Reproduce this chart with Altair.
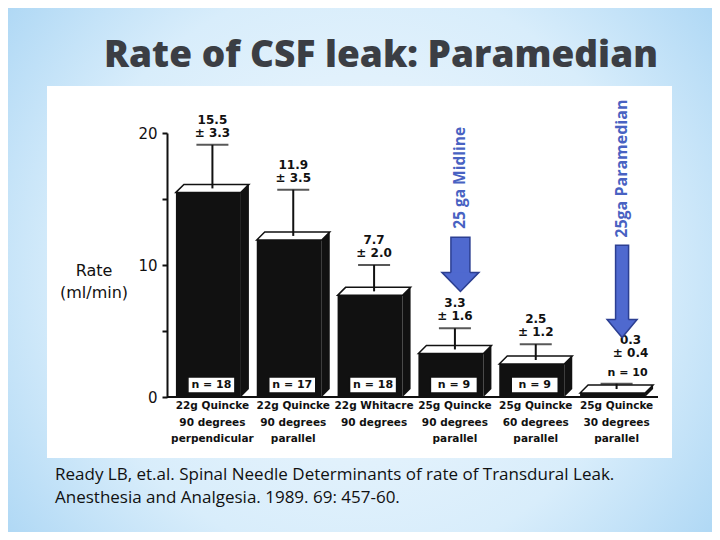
"""Slide: rate of CSF leak by spinal needle (Ready et al. 1989), paramedian highlight."""

import altair as alt
import pandas as pd

# ---- data ----
NEEDLES = ["22g Quincke", "22g Quincke", "22g Whitacre", "25g Quincke", "25g Quincke", "25g Quincke"]
ANGLES = ["90 degrees", "90 degrees", "90 degrees", "90 degrees", "60 degrees", "30 degrees"]
BEVELS = ["perpendicular", "parallel", "", "parallel", "parallel", "parallel"]
RATES = [15.5, 11.9, 7.7, 3.3, 2.5, 0.3]
ERRS = [3.3, 3.5, 2.0, 1.6, 1.2, 0.4]
COUNTS = [18, 17, 18, 9, 9, 10]

# annotation arrows (group index, label, tail / tip / label centre in ml/min)
ARROW_GROUPS = [3, 5]
ARROW_LABELS = ["25 ga Midline", "25ga Paramedian"]
ARROW_TAILS = [12.1, 11.5]
ARROW_TIPS = [8.0, 4.5]
ARROW_LABEL_MID = [16.6, 17.3]

TITLE = "Rate of CSF leak: Paramedian"
CITATION = ["Ready LB, et.al. Spinal Needle Determinants of rate of Transdural Leak.",
            "Anesthesia and Analgesia.  1989.  69: 457-60."]

# ---- style ----
W, H = 704, 524
INK = "#111111"
BAR_W, DEPTH = 65, 8
ARROW_FILL, ARROW_LINE, ARROW_TEXT = "#4f69cf", "#2c3f92", "#4862c2"
LABEL_FONT = "DejaVu Sans"

groups = ["\n".join(p for p in (n, a, b) if p) for n, a, b in zip(NEEDLES, ANGLES, BEVELS)]
df = pd.DataFrame({"group": groups, "rate": RATES, "err": ERRS, "n": COUNTS})
df["hi"] = df["rate"] + df["err"]
df["zero"] = 0.0
df["value_label"] = [f"{r:.1f}\n± {e:.1f}" for r, e in zip(RATES, ERRS)]
df["n_label"] = [f"n = {c}" for c in COUNTS]
low = df["rate"] < 1  # bars too short to carry their n inside

xscale = alt.Scale(domain=groups, range=[160, 645], paddingInner=0, paddingOuter=0)
yscale = alt.Scale(domain=[0, 20], range=[389, 125], nice=False, zero=True)
yaxis = alt.Axis(values=[0, 5, 10, 15, 20], grid=False, offset=-159, title=None, zindex=1,
                 labelExpr="datum.value % 10 == 0 ? datum.label : ''",
                 domainColor=INK, domainWidth=2, tickColor=INK, tickWidth=2, tickSize=5,
                 labelFont=LABEL_FONT, labelFontSize=15, labelColor=INK, labelPadding=5)


def X():
    return alt.X("group:N", scale=xscale, axis=None, sort=groups)


def Y(field):
    return alt.Y(field, scale=yscale, axis=yaxis)


half = BAR_W / 2
r_top = (BAR_W + DEPTH) / 2
k = (DEPTH / 2) / r_top
top_face = f"M-1,{k:.4f}L{-1 + DEPTH / r_top:.4f},-{k:.4f}L1,-{k:.4f}L{1 - DEPTH / r_top:.4f},{k:.4f}Z"

base = alt.Chart(df)

background = alt.Chart(pd.DataFrame({"a": [0]})).mark_rect(color={
    "gradient": "radial", "x1": 0.5, "y1": 0.5, "x2": 0.5, "y2": 0.5, "r1": 0, "r2": 0.75,
    "stops": [{"offset": 0, "color": "#f3f9fe"}, {"offset": 0.55, "color": "#d8edfb"},
              {"offset": 1, "color": "#98ccf1"}]}).encode(
    x=alt.value(0), x2=alt.value(W), y=alt.value(0), y2=alt.value(H))

panel = alt.Chart(pd.DataFrame({"a": [0]})).mark_rect(color="white").encode(
    x=alt.value(39), x2=alt.value(664), y=alt.value(78), y2=alt.value(450))

title = alt.Chart(pd.DataFrame({"t": [TITLE]})).mark_text(
    font="Open Sans", fontWeight=800, fontSize=37, color="#3b3e44", baseline="middle").encode(
    x=alt.value(373), y=alt.value(48), text="t:N")

citation = alt.Chart(pd.DataFrame({"t": ["\n".join(CITATION)]})).mark_text(
    font="Open Sans", fontSize=17, color="#111111", align="left", baseline="top",
    lineBreak="\n", lineHeight=23).encode(x=alt.value(47), y=alt.value(459), text="t:N")

side = base.mark_bar(width=DEPTH, color=INK, xOffset=half + DEPTH / 2,
                     yOffset=-DEPTH, y2Offset=-DEPTH).encode(x=X(), y=Y("rate:Q"), y2="zero:Q")
foot = base.mark_point(shape="M-1,-1L-1,1L1,-1Z", size=DEPTH ** 2, filled=True, color=INK, opacity=1,
                       xOffset=half + DEPTH / 2, yOffset=-DEPTH / 2).encode(x=X(), y=Y("zero:Q"))
front = base.mark_bar(width=BAR_W, color=INK).encode(x=X(), y=Y("rate:Q"), y2="zero:Q")
top = base.mark_point(shape=top_face, size=(2 * r_top) ** 2, filled=True, fill="white",
                      stroke=INK, strokeWidth=1.5, opacity=1,
                      xOffset=DEPTH / 2, yOffset=-DEPTH / 2).encode(x=X(), y=Y("rate:Q"))

whisker = base.mark_rule(color=INK, strokeWidth=2, xOffset=DEPTH / 2, yOffset=-DEPTH / 2,
                         y2Offset=-DEPTH / 2).encode(x=X(), y=Y("rate:Q"), y2="hi:Q")
cap = base.mark_tick(color=INK, size=32, thickness=2, xOffset=DEPTH / 2,
                     yOffset=-DEPTH / 2).encode(x=X(), y=Y("hi:Q"))

value_txt = alt.Chart(df[~low]).mark_text(
    font=LABEL_FONT, fontWeight="bold", fontSize=12, color=INK, baseline="bottom",
    lineBreak="\n", lineHeight=13, dx=DEPTH / 2, dy=-DEPTH / 2 - 18).encode(
    x=X(), y=Y("hi:Q"), text="value_label:N")
value_txt_low = alt.Chart(df[low]).mark_text(
    font=LABEL_FONT, fontWeight="bold", fontSize=12, color=INK, baseline="bottom",
    lineBreak="\n", lineHeight=13, dx=18, dy=-46).encode(
    x=X(), y=Y("rate:Q"), text="value_label:N")

n_box = alt.Chart(df[~low]).mark_point(
    shape="M-1,-0.34L1,-0.34L1,0.34L-1,0.34Z", size=47 ** 2, filled=True, fill="white",
    stroke=INK, strokeWidth=1.5, opacity=1, xOffset=3, yOffset=-12).encode(x=X(), y=Y("zero:Q"))
n_txt = alt.Chart(df[~low]).mark_text(
    font=LABEL_FONT, fontWeight="bold", fontSize=11, color=INK, baseline="middle",
    dx=3, dy=-12).encode(x=X(), y=Y("zero:Q"), text="n_label:N")
n_txt_low = alt.Chart(df[low]).mark_text(
    font=LABEL_FONT, fontWeight="bold", fontSize=11, color=INK, baseline="middle",
    dx=15, dy=-20).encode(x=X(), y=Y("rate:Q"), text="n_label:N")

baseline = alt.Chart(pd.DataFrame({"zero": [0.0]})).mark_rule(color=INK, strokeWidth=2).encode(
    x=alt.value(159), x2=alt.value(650), y=Y("zero:Q"))

group_txt = base.mark_text(
    font=LABEL_FONT, fontWeight="bold", fontSize=10.5, color=INK, baseline="top",
    lineBreak="\n", lineHeight=16.5, dx=4).encode(x=X(), y=alt.value(393), text="group:N")

ylabel = alt.Chart(pd.DataFrame({"t": ["Rate\n(ml/min)"]})).mark_text(
    font=LABEL_FONT, fontSize=16, color=INK, baseline="middle", lineBreak="\n",
    lineHeight=22).encode(x=alt.value(86), y=alt.value(263), text="t:N")

# arrows: shaft bar + open-topped head so no seam shows across the shaft
ARROW_STYLE = [dict(shaft=19, head_w=37, head_len=19, font=15.5),
               dict(shaft=13, head_w=30, head_len=18, font=16)]
arrow_layers = []
for gi, lab, tail, tip, mid, st in zip(ARROW_GROUPS, ARROW_LABELS, ARROW_TAILS, ARROW_TIPS,
                                       ARROW_LABEL_MID, ARROW_STYLE):
    adf = pd.DataFrame({"group": [groups[gi]], "tail": [tail], "tip": [tip],
                        "mid": [mid], "label": [lab]})
    r = st["head_w"] / 2
    h = (st["head_len"] / 2) / r
    s = (st["shaft"] / 2) / r
    head = f"M-{s:.3f},-{h:.3f}L-1,-{h:.3f}L0,{h:.3f}L1,-{h:.3f}L{s:.3f},-{h:.3f}"
    ach = alt.Chart(adf)
    arrow_layers += [
        ach.mark_bar(width=st["shaft"], color=ARROW_FILL, stroke=ARROW_LINE, strokeWidth=1.5,
                     xOffset=9.5, y2Offset=-(st["head_len"] - 2)).encode(
            x=X(), y=Y("tail:Q"), y2="tip:Q"),
        ach.mark_point(shape=head, size=st["head_w"] ** 2, filled=True, fill=ARROW_FILL,
                       stroke=ARROW_LINE, strokeWidth=1.5, opacity=1, xOffset=9.5,
                       yOffset=-st["head_len"] / 2).encode(x=X(), y=Y("tip:Q")),
        ach.mark_text(angle=270, font="Open Sans", fontWeight="bold", fontSize=st["font"],
                      color=ARROW_TEXT, baseline="middle", dx=0, xOffset=9.5).encode(
            x=X(), y=Y("mid:Q"), text="label:N"),
    ]

chart = alt.layer(
    background, panel, title, citation,
    side, foot, front, top, whisker, cap,
    n_box, n_txt, n_txt_low, value_txt, value_txt_low,
    baseline, group_txt, ylabel, *arrow_layers,
).properties(
    width=W, height=H, padding=0, autosize=alt.AutoSizeParams(type="none")
).configure_view(stroke=None)

chart.save("out.html", embed_options={"renderer": "svg", "actions": False})
